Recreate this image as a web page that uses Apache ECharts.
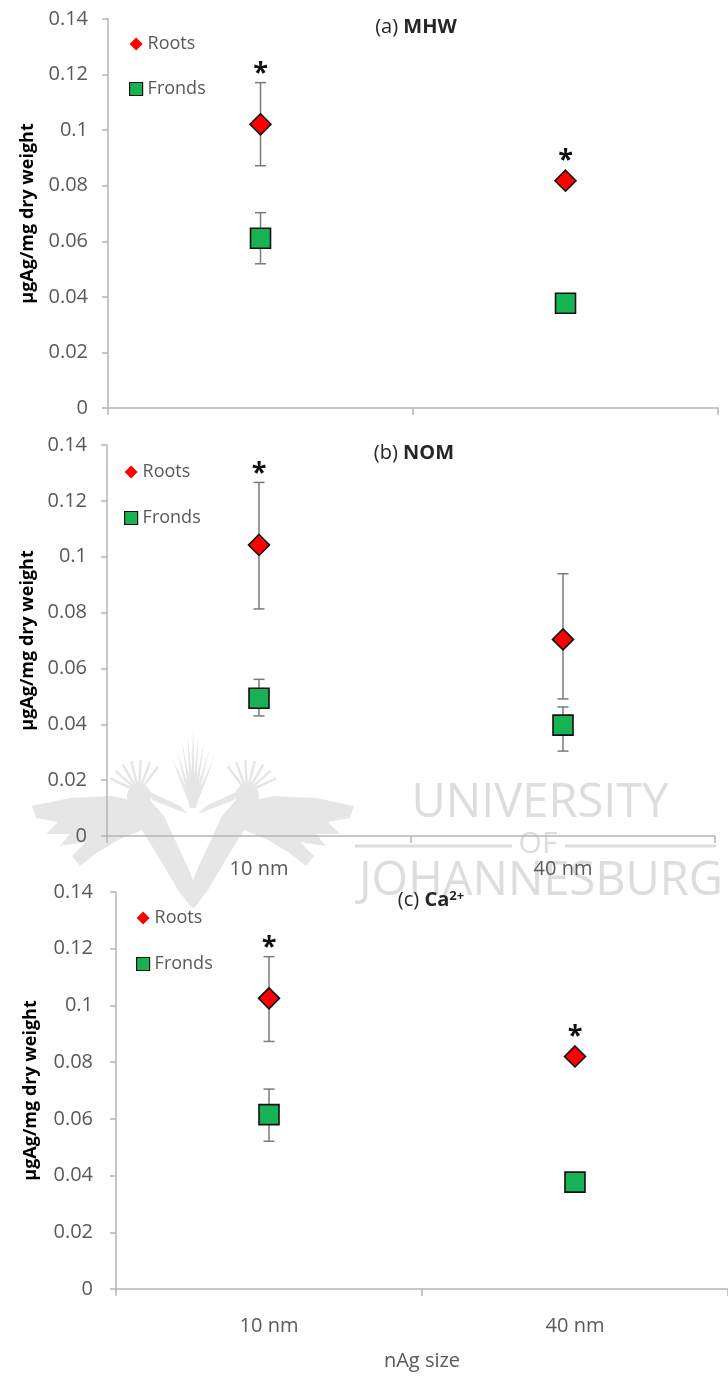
<!DOCTYPE html>
<html><head><meta charset="utf-8">
<script src="https://cdn.jsdelivr.net/npm/echarts@6/dist/echarts.min.js"></script>
<style>html,body{margin:0;padding:0;background:#fff}#c{width:728px;height:1376px}</style>
</head><body><div id="c"></div>
<script>
// ---------- data ----------
const categories = ['10 nm', '40 nm'];
const yTicks = [0, 0.02, 0.04, 0.06, 0.08, 0.1, 0.12, 0.14];
const seriesNames = ['Roots', 'Fronds'];
const panelLabels = ['(a) ', '(b) ', '(c) '];
const panelTreatments = ['MHW', 'NOM', 'Ca'];
const yAxisTitle = 'µgAg/mg dry weight';
const xAxisTitle = 'nAg size';

// (a) MHW
const mhwRoots = [0.1021, 0.0818];
const mhwRootsErrPlus = [0.0150, 0.0005];
const mhwRootsErrMinus = [0.0149, 0.0005];
const mhwFronds = [0.0611, 0.0377];
const mhwFrondsErrPlus = [0.0092, 0.0005];
const mhwFrondsErrMinus = [0.0092, 0.0005];
const mhwSignificant = [true, true];

// (b) NOM
const nomRoots = [0.1042, 0.0704];
const nomRootsErrPlus = [0.0224, 0.0235];
const nomRootsErrMinus = [0.0229, 0.0213];
const nomFronds = [0.0493, 0.0397];
const nomFrondsErrPlus = [0.0068, 0.0065];
const nomFrondsErrMinus = [0.0063, 0.0093];
const nomSignificant = [true, false];

// (c) Ca2+
const caRoots = [0.1025, 0.0820];
const caRootsErrPlus = [0.0147, 0.0005];
const caRootsErrMinus = [0.0152, 0.0005];
const caFronds = [0.0615, 0.0377];
const caFrondsErrPlus = [0.0090, 0.0005];
const caFrondsErrMinus = [0.0094, 0.0005];
const caSignificant = [true, true];

// ---------- layout / style ----------
const FONT = '"Open Sans", "DejaVu Sans", sans-serif';
const TXT = '#595959';
const AXIS = '#b5b5b5';
const RED = '#FF0000';
const GREEN = '#16B253';

const panels = [
  { roots: mhwRoots, rp: mhwRootsErrPlus, rm: mhwRootsErrMinus,
    fronds: mhwFronds, fp: mhwFrondsErrPlus, fm: mhwFrondsErrMinus, sig: mhwSignificant,
    grid: {left: 108, top: 19, width: 610, height: 389},
    xLabels: false, xName: false, yLabelMargin: 20, nameGap: 71, xLabelMargin: 23,
    legend: {left: 129, top: 35, gap: 27},
    title: {x: 416, y: 27} },
  { roots: nomRoots, rp: nomRootsErrPlus, rm: nomRootsErrMinus,
    fronds: nomFronds, fp: nomFrondsErrPlus, fm: nomFrondsErrMinus, sig: nomSignificant,
    grid: {left: 107, top: 445, width: 608, height: 391},
    xLabels: true, xName: false, yLabelMargin: 20, nameGap: 70, xLabelMargin: 23,
    legend: {left: 124, top: 463, gap: 28},
    title: {x: 414, y: 453} },
  { roots: caRoots, rp: caRootsErrPlus, rm: caRootsErrMinus,
    fronds: caFronds, fp: caFrondsErrPlus, fm: caFrondsErrMinus, sig: caSignificant,
    grid: {left: 116, top: 892, width: 624, height: 397},
    xLabels: true, xName: true, yLabelMargin: 23, nameGap: 76, xLabelMargin: 27,
    legend: {left: 136, top: 909, gap: 28},
    title: {x: 431, y: 900} }
];

const grid = [], xAxis = [], yAxis = [], series = [], legend = [], graphic = [];

function errorBarRender(params, api) {
  const x = api.value(0);
  const lo = api.coord([x, api.value(1)]);
  const hi = api.coord([x, api.value(2)]);
  const cw = 5.5;
  const style = {stroke: '#7a7a7a', lineWidth: 1.5};
  return {type: 'group', children: [
    {type: 'line', shape: {x1: lo[0], y1: lo[1], x2: hi[0], y2: hi[1]}, style},
    {type: 'line', shape: {x1: hi[0] - cw, y1: hi[1], x2: hi[0] + cw, y2: hi[1]}, style},
    {type: 'line', shape: {x1: lo[0] - cw, y1: lo[1], x2: lo[0] + cw, y2: lo[1]}, style}
  ]};
}
function asteriskRender(params, api) {
  const x = api.value(0);
  const pv = api.coord([x, api.value(1)]);
  const ph = api.coord([x, api.value(2)]);
  const top = Math.min(ph[1], pv[1] - 11);
  return {type: 'text', x: pv[0], y: top - 9,
    style: {text: '*', fontSize: 27, fontFamily: FONT, fontWeight: 'bold', fill: '#111',
            align: 'center', verticalAlign: 'middle'}};
}

panels.forEach((p, i) => {
  grid.push(Object.assign({containLabel: false}, p.grid));
  xAxis.push({
    type: 'category', gridIndex: i, data: categories, boundaryGap: true,
    axisLine: {lineStyle: {color: AXIS, width: 1.5}},
    axisTick: {show: true, length: 7, lineStyle: {color: AXIS, width: 1.5}},
    axisLabel: {show: p.xLabels, color: TXT, fontSize: 20, fontFamily: FONT, margin: p.xLabelMargin},
    splitLine: {show: false},
    name: p.xName ? xAxisTitle : '', nameLocation: 'middle', nameGap: 62,
    nameTextStyle: {color: TXT, fontSize: 20, fontFamily: FONT}
  });
  yAxis.push({
    type: 'value', gridIndex: i,
    min: yTicks[0], max: yTicks[yTicks.length - 1], interval: yTicks[1] - yTicks[0],
    axisLine: {show: true, lineStyle: {color: AXIS, width: 1.5}},
    axisTick: {show: true, length: 6, lineStyle: {color: AXIS, width: 1.5}},
    axisLabel: {color: TXT, fontSize: 20, fontFamily: FONT, margin: p.yLabelMargin,
      formatter: v => String(+v.toFixed(2))},
    splitLine: {show: false},
    name: yAxisTitle, nameLocation: 'middle', nameGap: p.nameGap, nameRotate: 90,
    nameTextStyle: {color: '#000', fontSize: 18, fontWeight: 'bold', fontFamily: FONT}
  });
  const groups = [
    {name: seriesNames[0], vals: p.roots, plus: p.rp, minus: p.rm, symbol: 'diamond', size: 21, color: RED},
    {name: seriesNames[1], vals: p.fronds, plus: p.fp, minus: p.fm, symbol: 'rect', size: 20, color: GREEN}
  ];
  groups.forEach(g => {
    series.push({
      type: 'custom', name: g.name, xAxisIndex: i, yAxisIndex: i, z: 2,
      renderItem: errorBarRender, silent: true,
      data: g.vals.map((v, k) => [k, v - g.minus[k], v + g.plus[k]])
    });
  });
  groups.forEach(g => {
    series.push({
      type: 'scatter', name: g.name, xAxisIndex: i, yAxisIndex: i, z: 3,
      symbol: g.symbol, symbolSize: g.size,
      itemStyle: {color: g.color, borderColor: '#111', borderWidth: 1.6, opacity: 1},
      data: g.vals.slice()
    });
  });
  series.push({
    type: 'custom', xAxisIndex: i, yAxisIndex: i, z: 4, silent: true,
    renderItem: asteriskRender,
    data: p.roots.map((v, k) => [k, v, v + p.rp[k]]).filter((d, k) => p.sig[k])
  });
  legend.push({
    orient: 'vertical', left: p.legend.left, top: p.legend.top, padding: 0,
    itemGap: p.legend.gap, itemWidth: 13, itemHeight: 13,
    textStyle: {color: TXT, fontSize: 18, fontFamily: FONT},
    data: [
      {name: seriesNames[0], icon: 'diamond', itemStyle: {color: RED, borderWidth: 0}},
      {name: seriesNames[1], icon: 'rect', itemStyle: {color: GREEN, borderColor: '#111', borderWidth: 1.2}}
    ]
  });
  const isCa = i === 2;
  graphic.push({
    type: 'text', x: p.title.x, y: p.title.y, z: 10,
    style: {
      text: '{n|' + panelLabels[i] + '}{b|' + panelTreatments[i] + '}' + (isCa ? '{s|2+}' : ''),
      align: 'center', verticalAlign: 'middle',
      rich: {
        n: {fontSize: 20, fontFamily: FONT, fill: '#262626', verticalAlign: 'bottom'},
        b: {fontSize: 20, fontFamily: FONT, fontWeight: 'bold', fill: '#262626', verticalAlign: 'bottom'},
        s: {fontSize: 13, fontFamily: FONT, fontWeight: 'bold', fill: '#262626', verticalAlign: 'top'}
      }
    }
  });
});

// ---------- watermark (University of Johannesburg) ----------
const WM = '#dddddd';
const WMF = '#e6e6e6';
graphic.push(
  {type: 'text', x: 540, y: 804, z: -1, silent: true,
   style: {text: 'UNIVERSITY', fontSize: 47, fontFamily: FONT, fill: WM, align: 'center', verticalAlign: 'middle'}},
  {type: 'text', x: 538, y: 844, z: -1, silent: true,
   style: {text: 'OF', fontSize: 30, fontFamily: FONT, fill: WM, align: 'center', verticalAlign: 'middle'}},
  {type: 'line', z: -1, silent: true, shape: {x1: 355, y1: 846, x2: 512, y2: 846}, style: {stroke: WM, lineWidth: 3}},
  {type: 'line', z: -1, silent: true, shape: {x1: 565, y1: 846, x2: 716, y2: 846}, style: {stroke: WM, lineWidth: 3}},
  {type: 'text', x: 541, y: 882, z: -1, silent: true,
   style: {text: 'JOHANNESBURG', fontSize: 47, fontFamily: FONT, fill: WM, align: 'center', verticalAlign: 'middle'}}
);
// simplified emblem: two crested birds with spread wings
const CX = 193;
function mirror(pts) { return pts.map(q => [2 * CX - q[0], q[1]]); }
const wingL = [[32,806],[70,798],[112,796],[140,802],[150,816],[142,830],[118,840],[98,852],[80,866],[72,856],[86,842],[60,846],[70,834],[46,834],[58,822],[36,818]];
const bodyL = [[128,806],[150,800],[164,816],[176,842],[190,872],[200,900],[192,908],[178,890],[158,856],[138,824]];
const beakL = [[150,792],[180,806],[188,814],[152,800]];
[wingL, bodyL, beakL].forEach(pts => {
  graphic.push({type: 'polygon', z: -2, silent: true, shape: {points: pts}, style: {fill: WMF}});
  graphic.push({type: 'polygon', z: -2, silent: true, shape: {points: mirror(pts)}, style: {fill: WMF}});
});
[[139, 796], [2 * CX - 139, 796]].forEach(c => {
  graphic.push({type: 'circle', z: -2, silent: true, shape: {cx: c[0], cy: c[1], r: 12}, style: {fill: WMF}});
});
// crests
[-1, 1].forEach(side => {
  const hx = side < 0 ? 139 : 2 * CX - 139;
  for (let k = 0; k < 7; k++) {
    const ang = (-155 + k * 17) * Math.PI / 180;
    const a2 = side < 0 ? ang : Math.PI - ang;
    graphic.push({type: 'line', z: -2, silent: true,
      shape: {x1: hx, y1: 792, x2: hx + Math.cos(a2) * 32, y2: 792 + Math.sin(a2) * 32},
      style: {stroke: WMF, lineWidth: 2.5}});
  }
});
// central fan
for (let k = 0; k < 9; k++) {
  const tx = CX - 22 + k * 5.5;
  const ty = 728 + Math.abs(k - 4) * 7;
  graphic.push({type: 'polygon', z: -2, silent: true,
    shape: {points: [[CX - 2.5, 808], [tx, ty], [CX + 2.5, 808]]}, style: {fill: WMF}});
}

const chart = echarts.init(document.getElementById('c'), null, {renderer: 'canvas'});
chart.setOption({
  backgroundColor: '#fff',
  animation: false,
  textStyle: {fontFamily: FONT},
  grid, xAxis, yAxis, series, legend, graphic
});
</script></body></html>
